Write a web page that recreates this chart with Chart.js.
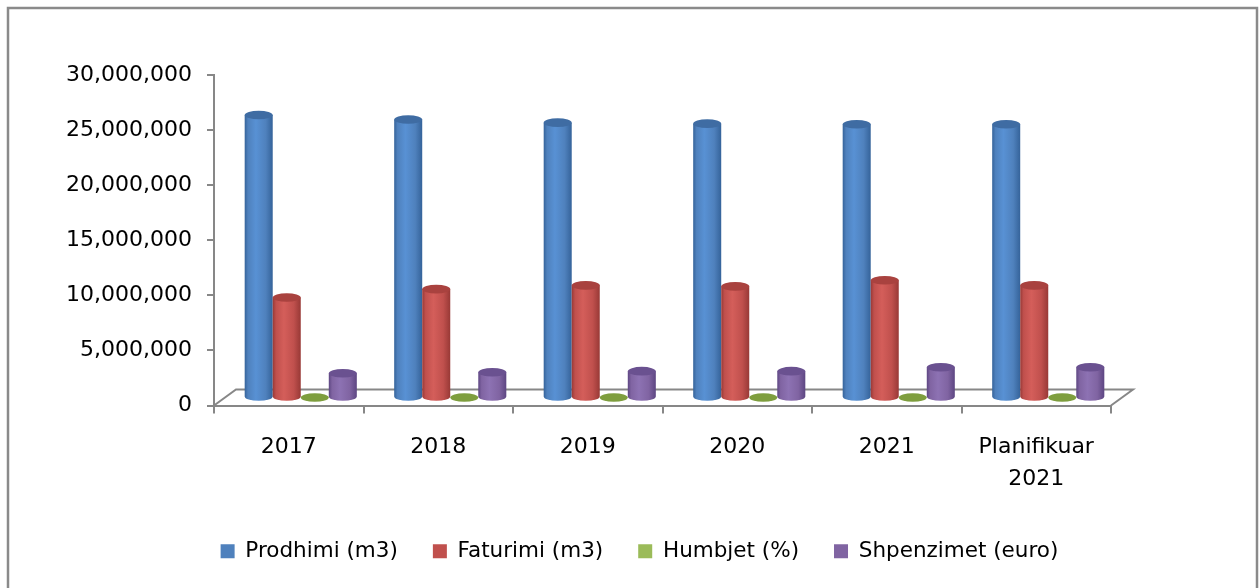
<!DOCTYPE html>
<html>
<head>
<meta charset="utf-8">
<script src="https://cdn.jsdelivr.net/npm/chart.js@4/dist/chart.umd.min.js"></script>
<style>
  body { margin: 0; background: #fff; }
</style>
</head>
<body>
<canvas id="chart" width="1259" height="588"></canvas>
<script>
const categories = ["2017", "2018", "2019", "2020", "2021", ["Planifikuar", "2021"]];
const prodhimi = [25640000, 25230000, 24950000, 24860000, 24800000, 24800000];
const faturimi = [9080000, 9840000, 10180000, 10090000, 10640000, 10180000];
const humbjet = [65, 61, 59, 59, 57, 59];
const shpenzimet = [2200000, 2290000, 2390000, 2390000, 2750000, 2750000];
const seriesNames = ["Prodhimi (m3)", "Faturimi (m3)", "Humbjet (%)", "Shpenzimet (euro)"];
// don't touch below unless the picture changes

const colors = ["#4F81BD", "#C0504D", "#9BBB59", "#8064A2"];
const shades = [
  { dark: "#35639a", light: "#5891d4", top: "#3f6ca3" },
  { dark: "#983936", light: "#d45e5a", top: "#a9423f" },
  { dark: "#6f8f35", light: "#a8c866", top: "#7e9e3e" },
  { dark: "#5d4682", light: "#8d72b3", top: "#6a5190" },
];
const gray = "#878787";

const frame = {
  id: "frame",
  beforeDraw(chart) {
    const c = chart.ctx;
    c.save();
    c.fillStyle = "#fff";
    c.fillRect(0, 0, chart.width, chart.height);
    c.strokeStyle = "#8a8a8a";
    c.lineWidth = 2.5;
    c.strokeRect(8, 8, chart.width - 10, chart.height + 20);
    c.restore();
  },
};

const legendShift = {
  id: "legendShift",
  afterLayout(chart) {
    chart.legend.left += 84;
    chart.legend.right += 84;
  },
};

const cylinders = {
  id: "cylinders",
  beforeDatasetsDraw(chart) {
    const c = chart.ctx;
    const a = chart.chartArea;
    const dx = 22, dy = -16;
    c.save();
    // floor
    c.strokeStyle = gray;
    c.lineWidth = 2;
    c.beginPath();
    c.moveTo(a.left, a.bottom);
    c.lineTo(a.left + dx, a.bottom + dy);
    c.lineTo(a.right + dx, a.bottom + dy);
    c.lineTo(a.right, a.bottom);
    c.stroke();

    const n = chart.data.labels.length;
    for (let i = 0; i < n; i++) {
      chart.data.datasets.forEach((ds, d) => {
        const el = chart.getDatasetMeta(d).data[i];
        const w = el.width;
        const cx = el.x + 12;
        const top = el.y - 8;
        const bottom = el.base - 8;
        const l = cx - w / 2, r = cx + w / 2;
        const ry = 4.3;
        const s = shades[d];
        const g = c.createLinearGradient(l, 0, r, 0);
        g.addColorStop(0, s.dark);
        g.addColorStop(0.12, colors[d]);
        g.addColorStop(0.4, s.light);
        g.addColorStop(0.75, colors[d]);
        g.addColorStop(1, s.dark);
        c.fillStyle = g;
        c.beginPath();
        c.moveTo(l, top);
        c.lineTo(l, bottom);
        c.ellipse(cx, bottom, w / 2, ry, 0, Math.PI, 0, true);
        c.lineTo(r, top);
        c.closePath();
        c.fill();
        c.fillStyle = s.top;
        c.beginPath();
        c.ellipse(cx, top, w / 2, ry, 0, 0, Math.PI * 2);
        c.fill();
      });
    }
    c.restore();
    return false;
  },
};

const ctx = document.getElementById("chart");

new Chart(ctx, {
  type: "bar",
  data: {
    labels: categories,
    datasets: [
      { label: seriesNames[0], data: prodhimi, backgroundColor: colors[0], borderWidth: 0 },
      { label: seriesNames[1], data: faturimi, backgroundColor: colors[1], borderWidth: 0 },
      { label: seriesNames[2], data: humbjet, backgroundColor: colors[2], borderWidth: 0 },
      { label: seriesNames[3], data: shpenzimet, backgroundColor: colors[3], borderWidth: 0 },
    ],
  },
  options: {
    responsive: false,
    animation: false,
    layout: {
      padding: { left: 0, top: 75, right: 148, bottom: 16 },
    },
    datasets: {
      bar: { categoryPercentage: 0.75, barPercentage: 1.0 },
    },
    scales: {
      x: {
        afterFit: (s) => { s.height = 100; },
        grid: { drawOnChartArea: false, tickLength: 8, color: gray, lineWidth: 2 },
        border: { color: gray, width: 2 },
        ticks: {
          color: "#000",
          padding: 18,
          maxRotation: 0,
          font: { family: "DejaVu Sans", size: 22, lineHeight: 1.45 },
        },
      },
      y: {
        min: 0,
        max: 30000000,
        afterFit: (s) => { s.width = 214; },
        grid: { drawOnChartArea: false, tickLength: 7, color: gray, lineWidth: 2 },
        border: { color: gray, width: 2 },
        ticks: {
          stepSize: 5000000,
          color: "#000",
          padding: 15,
          font: { family: "DejaVu Sans", size: 22 },
          callback: (v) => v.toLocaleString("en-US"),
        },
      },
    },
    plugins: {
      legend: {
        position: "bottom",
        labels: {
          boxWidth: 14,
          boxHeight: 14,
          padding: 35,
          color: "#000",
          font: { family: "DejaVu Sans", size: 21.5 },
        },
      },
      tooltip: { enabled: false },
    },
  },
  plugins: [frame, cylinders, legendShift],
});
</script>
</body>
</html>
